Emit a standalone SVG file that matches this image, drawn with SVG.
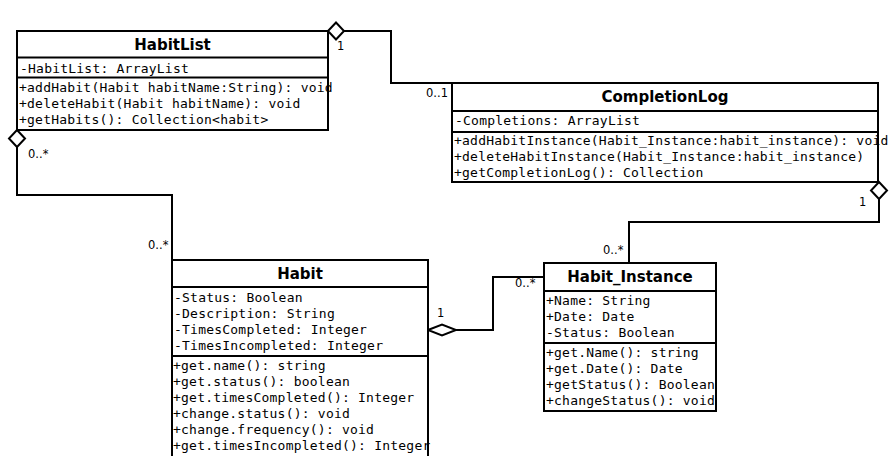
<svg xmlns="http://www.w3.org/2000/svg" width="896" height="456" viewBox="0 0 896 456">
<style>
.box{fill:#fff;stroke:#000;stroke-width:2}
.sep{stroke:#000;stroke-width:2}
.t{font-family:"DejaVu Sans",sans-serif;font-weight:bold;font-size:15px;text-anchor:middle;fill:#000}
.m{font-family:"DejaVu Sans Mono",monospace;font-size:13px;letter-spacing:0.22px;fill:#000}
.l{font-family:"DejaVu Sans",sans-serif;font-size:11.5px;fill:#000}
.c{fill:none;stroke:#000;stroke-width:2}
.d{fill:#fff;stroke:#000;stroke-width:2}
</style>
<rect width="896" height="456" fill="#fff"/>
<g id="connectors">
<polyline class="c" points="344,31 391,31 391,83 452,83"/>
<polygon class="d" points="328,31 336,22.5 344,31 336,39.5"/>
<text class="l" x="337" y="50">1</text>
<text class="l" x="426" y="97">0..1</text>
<polyline class="c" points="17,147 17,195 172,195 172,260"/>
<polygon class="d" points="17,130 25,138.5 17,147 9,138.5"/>
<text class="l" x="28" y="158">0..*</text>
<text class="l" x="148" y="249">0..*</text>
<polyline class="c" points="879,199 879,222 629,222 629,263"/>
<polygon class="d" points="879,182 887,190.5 879,199 871,190.5"/>
<text class="l" x="859" y="206">1</text>
<text class="l" x="603" y="254">0..*</text>
<polyline class="c" points="456,330 493,330 493,277 544,277"/>
<polygon class="d" points="428,330 442,324.5 456,330 442,335.5"/>
<text class="l" x="437" y="317">1</text>
<text class="l" x="515" y="287">0..*</text>
</g>
<g id="HabitList">
<rect class="box" x="17" y="31" width="311" height="99"/>
<line class="sep" x1="17" y1="57.5" x2="328" y2="57.5"/>
<line class="sep" x1="17" y1="77.5" x2="328" y2="77.5"/>
<text class="t" x="172.5" y="50">HabitList</text>
<text class="m" x="20" y="73">-HabitList: ArrayList</text>
<text class="m" x="19" y="92">+addHabit(Habit habitName:String): void</text>
<text class="m" x="19" y="108">+deleteHabit(Habit habitName): void</text>
<text class="m" x="19" y="124">+getHabits(): Collection&lt;habit&gt;</text>
</g>
<g id="CompletionLog">
<rect class="box" x="452" y="83" width="426" height="99"/>
<line class="sep" x1="452" y1="111" x2="878" y2="111"/>
<line class="sep" x1="452" y1="132" x2="878" y2="132"/>
<text class="t" x="665" y="102">CompletionLog</text>
<text class="m" x="455" y="125">-Completions: ArrayList</text>
<text class="m" x="454" y="145">+addHabitInstance(Habit_Instance:habit_instance): void</text>
<text class="m" x="454" y="161">+deleteHabitInstance(Habit_Instance:habit_instance)</text>
<text class="m" x="454" y="177">+getCompletionLog(): Collection</text>
</g>
<g id="Habit">
<rect class="box" x="172" y="260" width="256" height="200"/>
<line class="sep" x1="172" y1="287" x2="428" y2="287"/>
<line class="sep" x1="172" y1="356" x2="428" y2="356"/>
<text class="t" x="300" y="279">Habit</text>
<text class="m" x="174" y="302">-Status: Boolean</text>
<text class="m" x="174" y="318">-Description: String</text>
<text class="m" x="174" y="334">-TimesCompleted: Integer</text>
<text class="m" x="174" y="350">-TimesIncompleted: Integer</text>
<text class="m" x="173" y="370">+get.name(): string</text>
<text class="m" x="173" y="386">+get.status(): boolean</text>
<text class="m" x="173" y="402">+get.timesCompleted(): Integer</text>
<text class="m" x="173" y="418">+change.status(): void</text>
<text class="m" x="173" y="434">+change.frequency(): void</text>
<text class="m" x="173" y="450">+get.timesIncompleted(): Integer</text>
</g>
<g id="Habit_Instance">
<rect class="box" x="544" y="263" width="172" height="148"/>
<line class="sep" x1="544" y1="291" x2="716" y2="291"/>
<line class="sep" x1="544" y1="343" x2="716" y2="343"/>
<text class="t" x="630" y="282">Habit_Instance</text>
<text class="m" x="546" y="305">+Name: String</text>
<text class="m" x="546" y="321">+Date: Date</text>
<text class="m" x="546" y="337">-Status: Boolean</text>
<text class="m" x="546" y="357">+get.Name(): string</text>
<text class="m" x="546" y="373">+get.Date(): Date</text>
<text class="m" x="546" y="389">+getStatus(): Boolean</text>
<text class="m" x="546" y="405">+changeStatus(): void</text>
</g>
</svg>
